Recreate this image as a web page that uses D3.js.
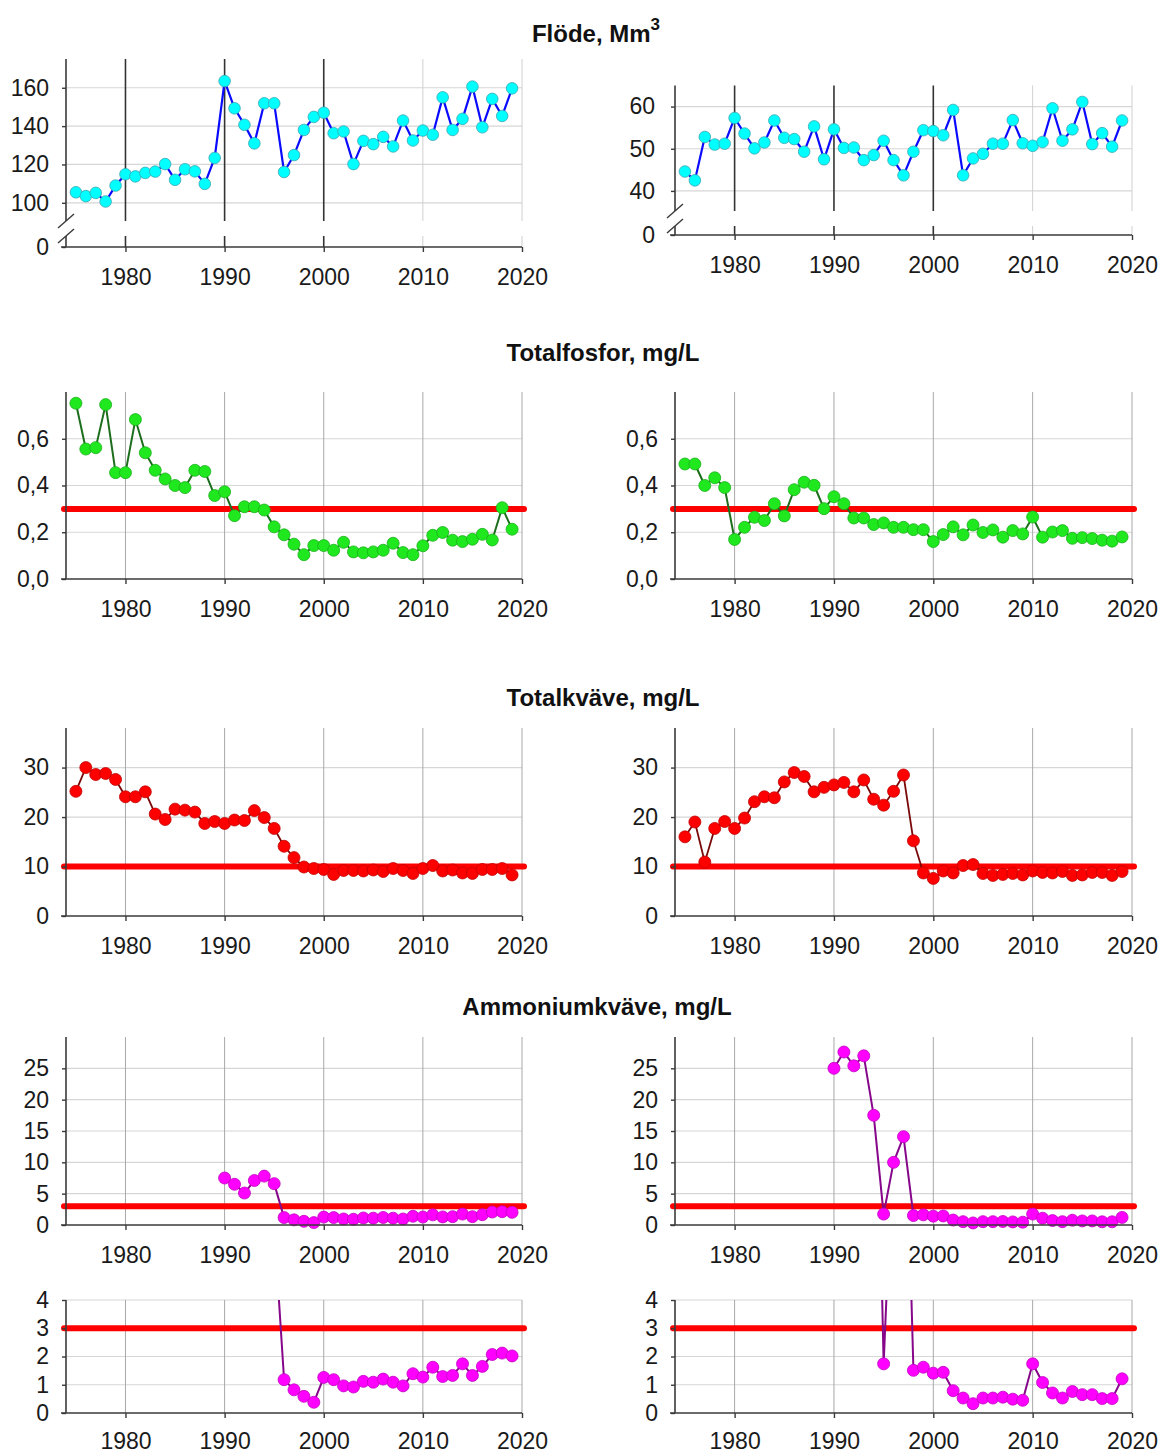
<!DOCTYPE html>
<html>
<head>
<meta charset="utf-8">
<script src="https://cdn.jsdelivr.net/npm/d3@7"></script>
<style>
  body { margin: 0; background: #fff; }
  svg { display: block; font-family: "Liberation Sans", Arial, sans-serif; }
</style>
</head>
<body>
<svg id="chart" width="1158" height="1454"></svg>
<script>
// ---- data -----------------------------------------------------------
const years = [1975, 1976, 1977, 1978, 1979, 1980, 1981, 1982, 1983, 1984,
               1985, 1986, 1987, 1988, 1989, 1990, 1991, 1992, 1993, 1994,
               1995, 1996, 1997, 1998, 1999, 2000, 2001, 2002, 2003, 2004,
               2005, 2006, 2007, 2008, 2009, 2010, 2011, 2012, 2013, 2014,
               2015, 2016, 2017, 2018, 2019];
const nh4Years = [1990, 1991, 1992, 1993, 1994, 1995, 1996, 1997, 1998, 1999,
                  2000, 2001, 2002, 2003, 2004, 2005, 2006, 2007, 2008, 2009,
                  2010, 2011, 2012, 2013, 2014, 2015, 2016, 2017, 2018, 2019];

// Flöde, Mm3
const flowLeft = [105.5, 103.5, 105.2, 100.7, 109.0, 114.9, 113.8, 115.6, 116.3, 120.2,
                  112.0, 117.5, 116.4, 109.9, 123.4, 163.5, 149.3, 140.7, 131.0, 151.9,
                  151.9, 116.1, 124.9, 138.0, 144.8, 147.0, 136.3, 137.2, 120.2, 132.3,
                  130.6, 134.4, 129.4, 142.9, 132.5, 137.7, 135.5, 155.0, 138.0, 143.8,
                  160.6, 139.4, 154.2, 145.3, 159.7];
const flowRight = [44.6, 42.5, 52.8, 51.0, 51.2, 57.3, 53.6, 50.1, 51.5, 56.7,
                   52.6, 52.3, 49.3, 55.3, 47.5, 54.6, 50.2, 50.3, 47.3, 48.5,
                   51.9, 47.3, 43.7, 49.3, 54.4, 54.2, 53.2, 59.2, 43.7, 47.7,
                   48.8, 51.2, 51.2, 56.8, 51.3, 50.7, 51.6, 59.6, 51.9, 54.6,
                   61.1, 51.1, 53.7, 50.5, 56.7];

// Totalfosfor, mg/L
const totPLeft = [0.752, 0.556, 0.562, 0.746, 0.455, 0.455, 0.682, 0.540, 0.465, 0.428,
                  0.400, 0.391, 0.465, 0.460, 0.357, 0.373, 0.271, 0.309, 0.309, 0.295,
                  0.223, 0.189, 0.149, 0.104, 0.143, 0.143, 0.123, 0.157, 0.116, 0.112,
                  0.116, 0.123, 0.153, 0.113, 0.104, 0.142, 0.187, 0.199, 0.166, 0.160,
                  0.170, 0.191, 0.167, 0.305, 0.213];
const totPRight = [0.492, 0.492, 0.400, 0.433, 0.391, 0.169, 0.221, 0.264, 0.250, 0.322,
                   0.270, 0.382, 0.414, 0.401, 0.301, 0.352, 0.322, 0.261, 0.261, 0.233,
                   0.240, 0.221, 0.221, 0.211, 0.211, 0.160, 0.190, 0.223, 0.189, 0.231,
                   0.199, 0.210, 0.179, 0.207, 0.193, 0.265, 0.179, 0.201, 0.207, 0.174,
                   0.177, 0.173, 0.166, 0.162, 0.180];

// Totalkväve, mg/L
const totNLeft = [25.2, 30.0, 28.6, 28.8, 27.6, 24.1, 24.1, 25.1, 20.6, 19.5,
                  21.6, 21.4, 21.0, 18.7, 19.1, 18.7, 19.4, 19.3, 21.3, 19.9,
                  17.7, 14.1, 11.8, 9.9, 9.6, 9.4, 8.4, 9.2, 9.2, 9.1,
                  9.3, 9.0, 9.6, 9.2, 8.6, 9.6, 10.2, 9.1, 9.3, 8.7,
                  8.6, 9.4, 9.4, 9.6, 8.3];
const totNRight = [16.0, 19.0, 10.9, 17.7, 19.1, 17.7, 19.8, 23.1, 24.1, 23.9,
                   27.1, 29.0, 28.2, 25.1, 26.0, 26.5, 27.0, 25.1, 27.5, 23.6,
                   22.4, 25.2, 28.5, 15.2, 8.7, 7.6, 9.1, 8.7, 10.2, 10.4,
                   8.6, 8.2, 8.4, 8.6, 8.3, 9.1, 8.8, 8.7, 9.0, 8.2,
                   8.3, 8.8, 8.8, 8.2, 9.0];

// Ammoniumkväve, mg/L
const nh4Left = [7.5, 6.5, 5.1, 7.1, 7.8, 6.6, 1.18, 0.82, 0.59, 0.38,
                 1.26, 1.18, 0.96, 0.92, 1.12, 1.09, 1.20, 1.09, 0.96, 1.39,
                 1.27, 1.62, 1.29, 1.33, 1.74, 1.33, 1.65, 2.07, 2.12, 2.02];
const nh4Right = [25.0, 27.6, 25.4, 27.0, 17.5, 1.74, 10.0, 14.1, 1.51, 1.62,
                  1.41, 1.44, 0.79, 0.53, 0.33, 0.53, 0.53, 0.56, 0.49, 0.45,
                  1.74, 1.08, 0.71, 0.53, 0.76, 0.65, 0.65, 0.51, 0.51, 1.21];

// limit values drawn as red lines
const limitTotP = 0.3;
const limitTotN = 10;
const limitNH4 = 3;

// axis ticks
const xTicks = [1980, 1990, 2000, 2010, 2020];
const flowMarkedYears = [1980, 1990, 2000];
const flowLeftTicks = [0, 100, 120, 140, 160];
const flowRightTicks = [0, 40, 50, 60];
const totPTicks = [0, 0.2, 0.4, 0.6];
const totNTicks = [0, 10, 20, 30];
const nh4Ticks = [0, 5, 10, 15, 20, 25];
const nh4LowTicks = [0, 1, 2, 3, 4];

const sectionTitles = ["Flöde, Mm", "Totalfosfor, mg/L", "Totalkväve, mg/L", "Ammoniumkväve, mg/L"];

// ---- layout ---------------------------------------------------------
const svg = d3.select("#chart");
const xDomain = [1974, 2020];
const cols = [{ x0: 66, x1: 522 }, { x0: 675, x1: 1132 }];
const sv = d3.formatLocale({ decimal: ",", thousands: "\u00a0", grouping: [3], currency: ["", " kr"] });
const fmtDec = sv.format(".1f");
const fmtInt = d3.format("d");
const tickFont = 23;

const styles = {
  flow: { line: "#0a0aff", lw: 2.2, fill: "#00ffff", stroke: "#3aa6b0", r: 5.8 },
  totP: { line: "#1c6e1c", lw: 2, fill: "#1fe81f", stroke: "#19b019", r: 6 },
  totN: { line: "#7a0a0a", lw: 1.8, fill: "#ff0000", stroke: "#c00000", r: 6 },
  nh4:  { line: "#86078a", lw: 2, fill: "#ff00ff", stroke: "#c000c0", r: 6 }
};

const panels = [
  { col: 0, domain: [0, 90, 175], range: [247, 222, 59], brk: true, ticks: flowLeftTicks, fmt: fmtInt,
    xs: years, vals: flowLeft, st: styles.flow, marked: true, pad: 13 },
  { col: 1, domain: [0, 35, 65], range: [235, 212, 85.5], brk: true, ticks: flowRightTicks, fmt: fmtInt,
    xs: years, vals: flowRight, st: styles.flow, marked: true, pad: 16 },
  { col: 0, domain: [0, 0.8], range: [579, 392], ticks: totPTicks, fmt: fmtDec,
    xs: years, vals: totPLeft, st: styles.totP, limit: limitTotP },
  { col: 1, domain: [0, 0.8], range: [579, 392], ticks: totPTicks, fmt: fmtDec,
    xs: years, vals: totPRight, st: styles.totP, limit: limitTotP },
  { col: 0, domain: [0, 38], range: [916, 728], ticks: totNTicks, fmt: fmtInt,
    xs: years, vals: totNLeft, st: styles.totN, limit: limitTotN },
  { col: 1, domain: [0, 38], range: [916, 728], ticks: totNTicks, fmt: fmtInt,
    xs: years, vals: totNRight, st: styles.totN, limit: limitTotN },
  { col: 0, domain: [0, 30], range: [1225, 1037], ticks: nh4Ticks, fmt: fmtInt,
    xs: nh4Years, vals: nh4Left, st: styles.nh4, limit: limitNH4 },
  { col: 1, domain: [0, 30], range: [1225, 1037], ticks: nh4Ticks, fmt: fmtInt,
    xs: nh4Years, vals: nh4Right, st: styles.nh4, limit: limitNH4 },
  { col: 0, domain: [0, 4], range: [1413, 1300], ticks: nh4LowTicks, fmt: fmtInt, clip: true, labelOff: 28,
    xs: nh4Years, vals: nh4Left, st: styles.nh4, limit: limitNH4 },
  { col: 1, domain: [0, 4], range: [1413, 1300], ticks: nh4LowTicks, fmt: fmtInt, clip: true, labelOff: 28,
    xs: nh4Years, vals: nh4Right, st: styles.nh4, limit: limitNH4 }
];

// ---- section titles -------------------------------------------------
const titleY = [42, 361, 706, 1015];
const titleX = [596, 603, 603, 597];
sectionTitles.forEach((t, i) => {
  const tx = svg.append("text")
    .attr("x", titleX[i]).attr("y", titleY[i])
    .attr("text-anchor", "middle")
    .attr("font-size", 24).attr("font-weight", "bold").attr("fill", "#111")
    .text(t);
  if (i === 0) {
    tx.append("tspan").attr("dy", -12).attr("font-size", 17).text("3");
  }
});

// ---- panels ---------------------------------------------------------
const axisColor = "#3a3a3a";

panels.forEach((p, idx) => {
  const c = cols[p.col];
  const x = d3.scaleLinear().domain(xDomain).range([c.x0, c.x1]);
  const y = d3.scaleLinear().domain(p.domain).range(p.range);
  const bottom = y(0);
  const top = y(p.domain[p.domain.length - 1]);
  const g = svg.append("g");

  // gap in the vertical lines where the axis is broken
  const gapTop = p.brk ? y(p.domain[1]) - 1 : null;
  const gapBot = p.brk ? gapTop + 15 : null;

  // horizontal grid
  g.append("g").selectAll("line")
    .data(p.ticks.filter(v => v > 0))
    .join("line")
    .attr("x1", c.x0).attr("x2", c.x1)
    .attr("y1", d => y(d)).attr("y2", d => y(d))
    .attr("stroke", "#d6d6d6").attr("stroke-width", 1.2);

  // vertical grid at decades
  const vg = g.append("g");
  xTicks.forEach(yr => {
    const dark = p.marked && flowMarkedYears.includes(yr);
    const col = dark ? "#333" : (p.marked ? "#d0d0d0" : "#a8a8a8");
    const w = dark ? 1.6 : 1;
    const segs = p.brk ? [[top, gapTop], [gapBot, bottom]] : [[top, bottom]];
    segs.forEach(s => {
      vg.append("line")
        .attr("x1", x(yr)).attr("x2", x(yr))
        .attr("y1", s[0]).attr("y2", s[1])
        .attr("stroke", col).attr("stroke-width", w);
    });
  });

  // limit line
  if (p.limit !== undefined) {
    g.append("line")
      .attr("x1", x(xDomain[0]) - 2).attr("x2", x(xDomain[1]) + 2)
      .attr("y1", y(p.limit)).attr("y2", y(p.limit))
      .attr("stroke", "#ff0000").attr("stroke-width", 6)
      .attr("stroke-linecap", "round");
  }

  // series
  const data = p.xs.map((yr, i) => [yr, p.vals[i]]);
  const sg = g.append("g");
  if (p.clip) {
    const id = "clip" + idx;
    svg.append("clipPath").attr("id", id)
      .append("rect")
      .attr("x", c.x0 - 10).attr("y", top)
      .attr("width", c.x1 - c.x0 + 20).attr("height", bottom - top + 12);
    sg.attr("clip-path", `url(#${id})`);
  }
  const line = d3.line().x(d => x(d[0])).y(d => y(d[1]));
  sg.append("path")
    .datum(data)
    .attr("d", line)
    .attr("fill", "none")
    .attr("stroke", p.st.line).attr("stroke-width", p.st.lw)
    .attr("stroke-linejoin", "round");
  sg.selectAll("circle")
    .data(p.clip ? data.filter(d => d[1] <= p.domain[p.domain.length - 1] + 0.1) : data)
    .join("circle")
    .attr("cx", d => x(d[0])).attr("cy", d => y(d[1]))
    .attr("r", p.st.r)
    .attr("fill", p.st.fill)
    .attr("stroke", p.st.stroke).attr("stroke-width", 0.8);

  // y axis: ticks + labels
  const yAxis = d3.axisLeft(y).tickValues(p.ticks).tickSize(4).tickPadding(p.pad || 13).tickFormat(p.fmt);
  const ya = g.append("g").attr("transform", `translate(${c.x0},0)`).call(yAxis);
  ya.select(".domain").remove();
  ya.selectAll(".tick line").attr("stroke", axisColor).attr("stroke-width", 1.4);
  ya.selectAll(".tick text")
    .attr("font-size", tickFont).attr("fill", "#1a1a1a")
    .attr("font-family", "Liberation Sans, Arial, sans-serif");

  // x axis: ticks + labels
  const xAxis = d3.axisBottom(x).tickValues(xTicks).tickSize(5).tickFormat(fmtInt);
  const xa = g.append("g").attr("transform", `translate(0,${bottom})`).call(xAxis);
  xa.select(".domain").remove();
  xa.selectAll(".tick line").attr("stroke", axisColor).attr("stroke-width", 1.4);
  xa.selectAll(".tick text")
    .attr("y", p.labelOff || 30).attr("dy", "0.36em")
    .attr("font-size", tickFont).attr("fill", "#1a1a1a")
    .attr("font-family", "Liberation Sans, Arial, sans-serif");

  // axis lines
  const ax = g.append("g").attr("stroke", axisColor).attr("stroke-width", 1.6).attr("fill", "none");
  ax.append("line").attr("x1", c.x0 - 5).attr("x2", c.x1).attr("y1", bottom).attr("y2", bottom);
  if (p.brk) {
    ax.append("line").attr("x1", c.x0).attr("x2", c.x0).attr("y1", top).attr("y2", gapTop);
    ax.append("line").attr("x1", c.x0).attr("x2", c.x0).attr("y1", gapBot).attr("y2", bottom);
    // break marks
    [gapTop, gapBot].forEach(yy => {
      ax.append("line")
        .attr("x1", c.x0 - 8).attr("y1", yy + 7)
        .attr("x2", c.x0 + 8).attr("y2", yy - 7)
        .attr("stroke-width", 1.4);
    });
  } else {
    ax.append("line").attr("x1", c.x0).attr("x2", c.x0).attr("y1", top).attr("y2", bottom);
  }
});
</script>
</body>
</html>
